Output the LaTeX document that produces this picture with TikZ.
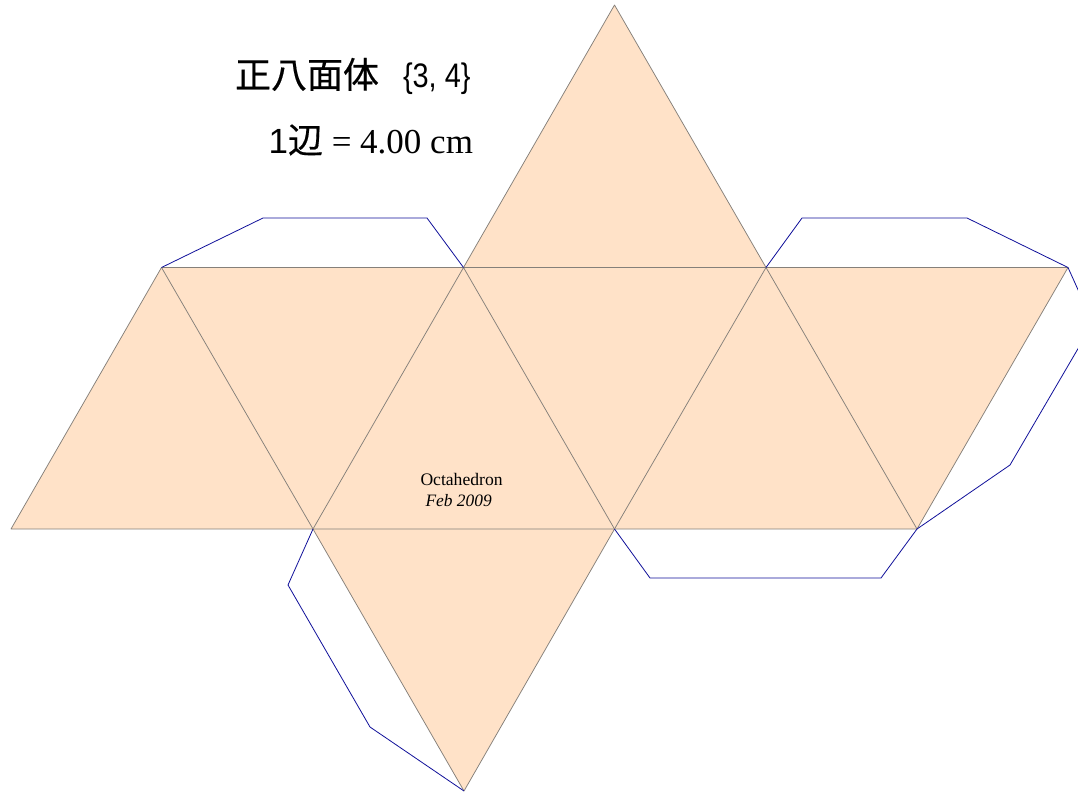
\documentclass[tikz,border=0pt]{standalone}
\usepackage{fontspec}
\setmainfont{Liberation Serif}
\newfontfamily\cjk{Noto Sans CJK JP}
\newfontfamily\lsans{Liberation Sans}
\begin{document}
\begin{tikzpicture}[x=1pt,y=-1pt,
  face/.style={draw=edgegray,line width=0.75pt,line join=round},
  flap/.style={draw=flapblue,line width=0.8pt,line join=round},
  lbl/.style={inner sep=0pt,outer sep=0pt,text=black}]
\definecolor{facepeach}{HTML}{FFE2C8}
\definecolor{edgegray}{HTML}{85807A}
\definecolor{flapblue}{HTML}{10109A}
\useasboundingbox[fill=white] (0,0) rectangle (1078,792);
\clip (0,0) rectangle (1078,792);
\coordinate (A) at (614.5,5);
\coordinate (B0) at (161.5,267.5);
\coordinate (B1) at (463.5,267.5);
\coordinate (B2) at (766,267.5);
\coordinate (B3) at (1068,267.5);
\coordinate (C0) at (11,529);
\coordinate (C1) at (313,529);
\coordinate (C2) at (614.5,529);
\coordinate (C3) at (917,529);
\coordinate (D) at (464,791);
% faces
\fill[facepeach] (A) -- (B2) -- (B3) -- (C3) -- (C2) -- (D) -- (C1) -- (C0) -- (B0) -- (B1) -- cycle;
\draw[face] (B1) -- (A) -- (B2);
\draw[face] (B0) -- (B3) -- (C3) -- (C0) -- cycle;
\draw[face] (B0) -- (C1) -- (D) -- (C2) -- (B1) -- (C1);
\draw[face] (C2) -- (B2) -- (C3);
% flaps
\draw[flap] (B0) -- (263,218) -- (427,218) -- (B1);
\draw[flap] (B2) -- (802,218) -- (967,218) -- (B3) -- (1093,323) -- (1010,465) -- (C3);
\draw[flap] (C2) -- (650,578) -- (881,578) -- (C3);
\draw[flap] (C1) -- (288,585) -- (370,727) -- (D);
% text
\node[lbl,anchor=base west] (title) at (235,88) {\fontsize{36}{36}\selectfont\cjk\addfontfeature{FakeBold=0.4}正八面体};
\node[lbl,anchor=base west] (sym) at (403,88) {\lsans\fontsize{34}{34}\selectfont\addfontfeature{FakeStretch=0.85}\{3, 4\}};
\node[lbl,anchor=base east] (edge) at (473,153) {\fontsize{35}{35}\selectfont{\lsans 1}{\cjk\addfontfeature{FakeBold=0.4}辺} = 4.00 cm};
\node[lbl,anchor=base west] (oct) at (420.5,485) {\fontsize{17.6}{17.6}\selectfont Octahedron};
\node[lbl,anchor=base west] (date) at (425.5,506) {\fontsize{17.4}{17.4}\selectfont\itshape Feb 2009};
\end{tikzpicture}
\end{document}
